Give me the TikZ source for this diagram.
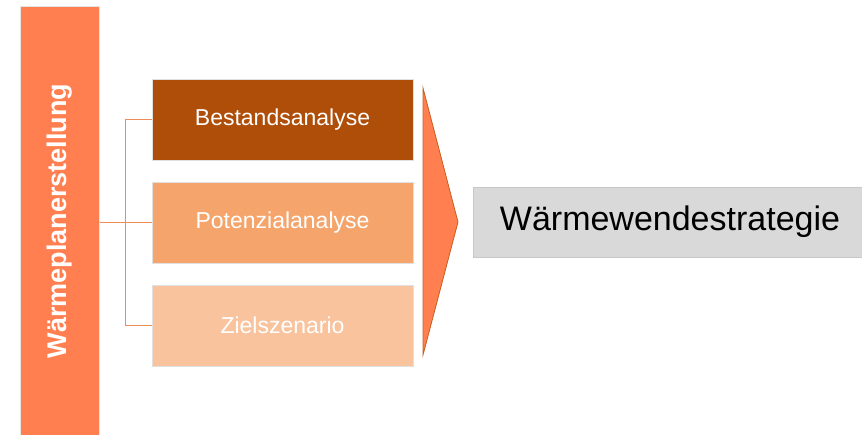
\documentclass[tikz,border=0pt]{standalone}
\usepackage{fontspec}
\setmainfont{Liberation Sans}
\usepackage{xcolor}
\usepackage{tikz}
\usetikzlibrary{positioning}

\definecolor{coral}{HTML}{FF7F50}
\definecolor{phaseA}{HTML}{AE4E09}
\definecolor{phaseB}{HTML}{F5A56B}
\definecolor{phaseC}{HTML}{F9C39D}
\definecolor{linkcol}{HTML}{EE8D57}
\definecolor{goalgray}{HTML}{D9D9D9}

\tikzset{
  phase/.style={draw=black!12,line width=1pt,minimum width=261pt,minimum height=81pt,
    inner sep=0pt,text=white,font=\fontsize{23}{27}\selectfont},
  link/.style={draw=linkcol,line width=1.6pt}
}

\begin{document}
\begin{tikzpicture}[x=1pt,y=-1pt]
\useasboundingbox (0,0) rectangle (862,434);
\node[fill=coral,draw=black!10,line width=1pt,minimum width=79pt,minimum height=430pt,inner sep=0pt] (plan) at (59.5,221) {};
\node[rotate=90,text=white,font=\bfseries\fontsize{27}{31}\selectfont] at (plan.center) {Wärmeplanerstellung};
\node[phase,fill=phaseA] (bestand) at (282.5,119.5) {Bestandsanalyse};
\node[phase,fill=phaseB,below=21pt of bestand] (potenzial) {Potenzialanalyse};
\node[phase,fill=phaseC,below=21pt of potenzial] (ziel) {Zielszenario};
% Verbindungen
\draw[link] (bestand.west) -- ++(-26,0) |- (ziel.west);
\draw[link] (plan.east |- potenzial.west) -- (potenzial.west);
% Pfeil
\draw[fill=coral,draw=phaseA!70!coral,line width=0.8pt] (423,88) -- (458,222) -- (423,355) -- cycle;
\node[fill=goalgray,draw=black!22,line width=1pt,minimum width=394pt,minimum height=70pt,
  font=\fontsize{34}{38}\selectfont] (strategie) at (670,222) {Wärmewendestrategie};
\end{tikzpicture}
\end{document}
